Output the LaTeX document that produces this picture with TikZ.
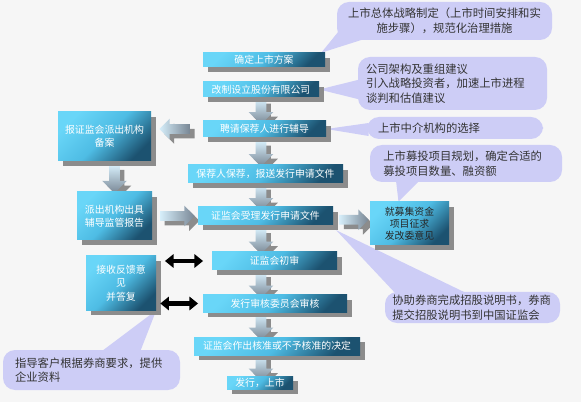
\documentclass[tikz,border=0pt]{standalone}
\usepackage{fontspec}
\newfontfamily\cjk{Noto Sans CJK SC}
\usetikzlibrary{calc,shapes.arrows,shadows,arrows.meta}
\definecolor{boxlight}{RGB}{105,214,248}
\definecolor{boxmid}{RGB}{78,188,228}
\definecolor{boxdark}{RGB}{28,82,112}
\definecolor{arrlight}{RGB}{214,238,250}
\definecolor{arrdark}{RGB}{120,134,148}
\definecolor{bubblefill}{RGB}{205,205,246}
\definecolor{paper}{RGB}{246,246,246}
\pgfdeclarelayer{bg}
\pgfdeclarelayer{back}
\pgfsetlayers{bg,back,main}

\begin{document}
\begin{tikzpicture}[x=.75pt,y=-.75pt,
  shad/.style={drop shadow={shadow xshift=3.5pt,shadow yshift=-3.5pt,fill=black!45,opacity=1}},
  stepbox/.style={shad,top color=boxlight,bottom color=boxdark,middle color=boxmid,shading angle=45,
    text=white,inner sep=0pt,align=center,font=\cjk\fontsize{7.4}{10}\selectfont},
  varrow/.style={shad,single arrow,shape border rotate=270,inner sep=3.75pt,minimum height=19pt,
    minimum width=18pt,single arrow head extend=5.25pt,top color=arrlight,bottom color=arrdark},
  harrow/.style={shad,single arrow,inner sep=3.4pt,minimum height=23pt,minimum width=15pt,
    single arrow head extend=4.1pt,left color=arrlight,right color=arrdark},
  bubble/.style={fill=bubblefill,rounded corners=9pt,inner ysep=0pt,align=left,
    text=black!80,font=\cjk\fontsize{8.5}{11}\selectfont},
  dbl/.style={line width=3pt,{Triangle[width=10pt,length=6.5pt]}-{Triangle[width=10pt,length=6.5pt]}}]
 \useasboundingbox (0,0) rectangle (581,402);
 \begin{pgfonlayer}{bg}
  \fill[paper] (0,0) rectangle (581,402);
 \end{pgfonlayer}

 \node[stepbox,minimum width=91.5pt,minimum height=10.5pt] (s1) at (264,60) {确定上市方案};
 \node[stepbox,minimum width=87pt,minimum height=11.25pt] (s2) at (261,89.5) {改制设立股份有限公司};
 \node[stepbox,minimum width=92.25pt,minimum height=12pt] (s3) at (264.5,129) {聘请保荐人进行辅导};
 \node[stepbox,minimum width=116.25pt,minimum height=13.5pt] (s4) at (265.5,174) {保荐人保荐，报送发行申请文件};
 \node[stepbox,minimum width=101.25pt,minimum height=13.5pt] (s5) at (265.5,216) {证监会受理发行申请文件};
 \node[stepbox,minimum width=93.75pt,minimum height=13.5pt] (s6) at (274.5,261) {证监会初审};
 \node[stepbox,minimum width=108pt,minimum height=12.75pt] (s7) at (275,303.5) {发行审核委员会审核};
 \node[stepbox,minimum width=124.5pt,minimum height=13.5pt] (s8) at (277,346) {证监会作出核准或不予核准的决定};
 \node[stepbox,minimum width=49.5pt,minimum height=9.75pt] (s9) at (260,382.5) {发行，上市};

 \node[stepbox,minimum width=69.75pt,minimum height=36.75pt] (l1) at (104.5,136.5) {报证监会派出机构\\备案};
 \node[stepbox,minimum width=56.25pt,minimum height=36pt] (l2) at (114.5,216) {派出机构出具\\辅导监管报告};
 \node[stepbox,minimum width=52.5pt,minimum height=40.5pt] (l3) at (121,283) {接收反馈意\\见\\并答复};
 \node[stepbox,minimum width=59.25pt,minimum height=32.25pt,text=black!85,
   font=\cjk\fontsize{7.4}{8.8}\selectfont] (r1) at (409.5,223.5) {就募集资金\\项目征求\\发改委意见};

 \node[bubble,align=center,inner xsep=0pt,minimum width=161.25pt,minimum height=28.5pt] (c1) at (444.5,21)
   {上市总体战略制定（上市时间安排和实\\施步骤），规范化治理措施};
 \node[bubble,inner xsep=6pt,text width=129.75pt,minimum height=39.75pt] (c2) at (452.5,83.5)
   {公司架构及重组建议\\引入战略投资者，加速上市进程\\谈判和估值建议};
 \node[bubble,inner xsep=8.25pt,text width=115.5pt,minimum height=16.5pt] (c3) at (455,128) {上市中介机构的选择};
 \node[bubble,inner xsep=10pt,text width=124pt,minimum height=27.75pt] (c4) at (466,163.5)
   {上市募投项目规划，确定合适的\\募投项目数量、融资额};
 \node[bubble,inner xsep=5.5pt,text width=120.25pt,minimum height=23.25pt] (c5) at (472.5,307.5)
   {协助券商完成招股说明书，券商\\提交招股说明书到中国证监会};
 \node[bubble,inner xsep=9pt,text width=114.75pt,minimum height=30pt] (c6) at (91.5,370)
   {指导客户根据券商要求，提供\\企业资料};

 \begin{pgfonlayer}{back}
  \fill[bubblefill] ($(c1.south west)+(6,-14)$) -- ([xshift=-3pt]s1.north east) -- ($(c1.south west)+(30,-2)$) -- cycle;
  \fill[bubblefill] ($(c2.west)+(2,-4)$) -- (s2.east) -- ($(c2.west)+(2,16)$) -- cycle;
  \fill[bubblefill] ($(c3.west)+(2,-5)$) -- (s3.east) -- ($(c3.west)+(2,8)$) -- cycle;
  \fill[bubblefill] ($(c4.south west)+(26,-4)$) -- ($(r1.north)+(-11,0)$) -- ($(c4.south west)+(52,-4)$) -- cycle;
  \fill[bubblefill] ($(c5.north west)+(12,3)$) -- ($(s5.south east)+(3,5)$) -- ($(c5.north west)+(85,3)$) -- cycle;
  \fill[bubblefill] ($(c6.north west)+(97,3)$) -- (l3.south east) -- ($(c6.north west)+(137,3)$) -- cycle;

  \foreach \a/\b in {s2/s3,s3/s4,s4/s5,s5/s6,s6/s7,s7/s8,s8/s9}{
   \path ($(\a.south)!.5!(\b.north)$) coordinate (m);
   \node[varrow] at (m -| s2) {};
  }
  \node[harrow,shape border rotate=180] (a31) at ($(l1.east |- s3.west)!.5!(s3.west)$) {};
  \node[varrow,minimum height=21pt] (a12) at ($(l1.south -| l2.north)!.5!(l2.north)$) {};
  \node[harrow,minimum height=26pt] (a25) at ($(l2.east)!.5!(s5.west)$) {};
  \node[harrow,minimum height=22pt] (a5r) at ($(s5.east)!.5!(r1.west)$) {};
 \end{pgfonlayer}

 \draw[dbl,shorten <=6.5pt,shorten >=6.5pt] (l3.east |- s6.west) -- (s6.west);
 \draw[dbl,shorten <=3pt,shorten >=3.5pt] (l3.east |- s7.west) -- (s7.west);
\end{tikzpicture}
\end{document}
